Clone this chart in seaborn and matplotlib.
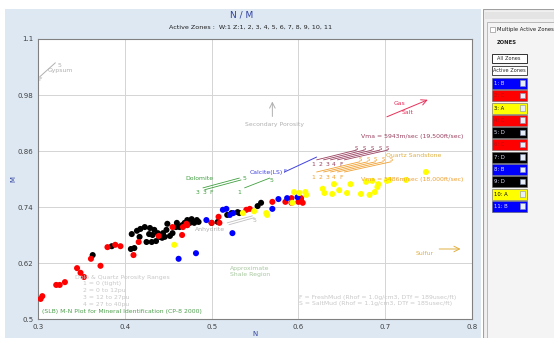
import pandas as pd
import numpy as np
import matplotlib
matplotlib.use("Agg")
import matplotlib.pyplot as plt
import seaborn as sns
from matplotlib.patches import Rectangle

# zone D (black)
n_d = [0.363, 0.385, 0.407, 0.411, 0.408, 0.414, 0.418, 0.423, 0.428, 0.431, 0.436, 0.440,
       0.444, 0.448, 0.449, 0.455, 0.459, 0.466, 0.469, 0.475, 0.480, 0.485, 0.434, 0.443,
       0.438, 0.425, 0.417, 0.460, 0.472, 0.477, 0.483, 0.500, 0.507, 0.518, 0.523, 0.530,
       0.532, 0.553, 0.557, 0.446, 0.463, 0.452, 0.429, 0.432]
m_d = [0.637, 0.656, 0.650, 0.652, 0.682, 0.689, 0.693, 0.697, 0.682, 0.665, 0.667, 0.676,
       0.684, 0.691, 0.704, 0.684, 0.697, 0.701, 0.706, 0.706, 0.706, 0.708, 0.691, 0.674,
       0.684, 0.665, 0.676, 0.706, 0.712, 0.714, 0.712, 0.706, 0.708, 0.723, 0.727, 0.729,
       0.727, 0.742, 0.749, 0.676, 0.697, 0.678, 0.695, 0.680]

# zone C (red)
n_c = [0.303, 0.305, 0.321, 0.325, 0.331, 0.345, 0.349, 0.353, 0.361, 0.372, 0.380, 0.389,
       0.395, 0.410, 0.416, 0.439, 0.455, 0.466, 0.467, 0.471, 0.472, 0.500, 0.508, 0.509,
       0.540, 0.544, 0.570, 0.585, 0.600, 0.603, 0.605, 0.592, 0.592, 0.603]
m_c = [0.543, 0.549, 0.573, 0.573, 0.579, 0.609, 0.599, 0.590, 0.629, 0.614, 0.654, 0.659,
       0.656, 0.637, 0.665, 0.678, 0.697, 0.680, 0.697, 0.704, 0.701, 0.706, 0.719, 0.706,
       0.734, 0.736, 0.751, 0.751, 0.751, 0.759, 0.749, 0.749, 0.759, 0.755]

# zone B (blue)
n_b = [0.462, 0.482, 0.524, 0.494, 0.513, 0.517, 0.521, 0.525, 0.570, 0.577, 0.587, 0.599]
m_b = [0.629, 0.641, 0.684, 0.712, 0.734, 0.736, 0.723, 0.727, 0.736, 0.757, 0.759, 0.761]

# zone A (yellow)
n_a = [0.457, 0.536, 0.549, 0.563, 0.564, 0.595, 0.601, 0.608, 0.609, 0.593, 0.628, 0.630,
       0.641, 0.647, 0.639, 0.656, 0.660, 0.672, 0.682, 0.678, 0.688, 0.691, 0.692, 0.702,
       0.747, 0.685, 0.705, 0.724]
m_a = [0.659, 0.727, 0.731, 0.727, 0.723, 0.772, 0.770, 0.772, 0.766, 0.749, 0.779, 0.770,
       0.789, 0.776, 0.768, 0.770, 0.789, 0.768, 0.766, 0.794, 0.772, 0.783, 0.789, 0.796,
       0.815, 0.796, 0.798, 0.798]

zone_labels = ["1: B", "2: C", "3: A", "4: C", "5: D", "6: C", "7: D", "8: B", "9: D", "10: A", "11: B"]
litho_colors = {"A": "#ffff00", "B": "#0000ff", "C": "#ff0000", "D": "#000000"}

x_ticks = [0.3, 0.4, 0.5, 0.6, 0.7, 0.8]
y_ticks = [0.5, 0.62, 0.74, 0.86, 0.98, 1.1]

# Vma fan lines (start N, end N), maroon = 19,500 ft/s, orange = 18,000 ft/s
fan_start = [0.621, 0.629, 0.637, 0.645, 0.653]
fan_end = [0.667, 0.676, 0.685, 0.694, 0.703]
fan_labels = ["1", "2", "3", "4", "F"]


def build_frame():
    parts = []
    for key, ns, ms in [("D", n_d, m_d), ("C", n_c, m_c), ("B", n_b, m_b), ("A", n_a, m_a)]:
        parts.append(pd.DataFrame({"N": ns, "M": ms, "litho": key}))
    return pd.concat(parts, ignore_index=True)


def draw_annotations(ax):
    gray = "#b0b0b0"
    fs = 4.4
    # gypsum
    ax.plot([0.302, 0.320], [1.019, 1.049], color=gray, lw=0.7)
    ax.text(0.322, 1.041, "5", color=gray, fontsize=fs)
    ax.text(0.311, 1.030, "Gypsum", color=gray, fontsize=fs)
    ax.text(0.300, 1.010, "F", color=gray, fontsize=fs)
    # secondary porosity
    ax.annotate("", xy=(0.570, 0.972), xytext=(0.570, 0.928),
                arrowprops=dict(arrowstyle="->", color=gray, lw=0.7))
    ax.text(0.572, 0.917, "Secondary Porosity", color=gray, fontsize=fs, ha="center", va="center")
    # gas / salt
    red = "#e8305a"
    ax.annotate("", xy=(0.752, 0.972), xytext=(0.699, 0.931),
                arrowprops=dict(arrowstyle="->", color=red, lw=0.7))
    ax.text(0.716, 0.961, "Gas", color=red, fontsize=fs, ha="center", va="center")
    ax.text(0.726, 0.942, "Salt", color=red, fontsize=fs, ha="center", va="center")
    # Vma texts
    maroon = "#9a4060"
    orange = "#f0a030"
    ax.text(0.672, 0.892, "Vma = 5943m/sec (19,500ft/sec)", color=maroon, fontsize=fs, va="center")
    ax.text(0.701, 0.851, "Quartz Sandstone", color="#e0b040", fontsize=fs, va="center")
    ax.text(0.672, 0.800, "Vma = 5486m/sec (18,000ft/sec)", color=orange, fontsize=fs, va="center")
    for s, e, lab in zip(fan_start, fan_end, fan_labels):
        ax.plot([s, e], [0.841, 0.862], color=maroon, lw=0.6)
        ax.text(s - 0.004, 0.832, lab, color=maroon, fontsize=fs, ha="center", va="center")
        ax.text(e, 0.866, "S", color=maroon, fontsize=3.8, ha="center", va="center")
        ax.plot([s, e + 0.004], [0.815, 0.837], color=orange, lw=0.6)
        ax.text(s - 0.004, 0.804, lab, color=orange, fontsize=fs, ha="center", va="center")
        ax.text(e + 0.004, 0.841, "S", color=orange, fontsize=3.8, ha="center", va="center")
    # calcite
    blue = "#4040e0"
    ax.plot([0.584, 0.621], [0.815, 0.847], color=blue, lw=0.7)
    ax.text(0.585, 0.816, "F", color=blue, fontsize=3.8, ha="center", va="center")
    ax.text(0.563, 0.813, "Calcite(LS)", color=blue, fontsize=fs, ha="center", va="center")
    # dolomite
    green = "#40a040"
    ax.plot([0.490, 0.532], [0.781, 0.802], color=green, lw=0.6)
    ax.plot([0.492, 0.534], [0.777, 0.798], color=green, lw=0.6)
    ax.plot([0.538, 0.567], [0.781, 0.802], color=green, lw=0.6)
    ax.text(0.486, 0.801, "Dolomite", color=green, fontsize=fs, ha="center", va="center")
    for xx, lab in [(0.484, "3"), (0.492, "3"), (0.500, "F"), (0.532, "1")]:
        ax.text(xx, 0.772, lab, color=green, fontsize=fs, ha="center", va="center")
    ax.text(0.538, 0.800, "5", color=green, fontsize=fs, ha="center", va="center")
    ax.text(0.569, 0.796, "5", color=green, fontsize=fs, ha="center", va="center")
    # anhydrite
    ax.plot([0.518, 0.547], [0.706, 0.721], color="#c0c0c0", lw=0.6)
    ax.plot([0.520, 0.549], [0.702, 0.717], color="#c0c0c0", lw=0.6)
    ax.text(0.549, 0.712, "5", color=gray, fontsize=fs, ha="center", va="center")
    ax.text(0.498, 0.691, "Anhydrite", color=gray, fontsize=fs, ha="center", va="center")
    # sulfur
    gold = "#e0b040"
    ax.annotate("", xy=(0.790, 0.650), xytext=(0.759, 0.650),
                arrowprops=dict(arrowstyle="->", color=gold, lw=0.7))
    ax.text(0.745, 0.640, "Sulfur", color=gold, fontsize=fs, ha="center", va="center")
    # shale region
    sg = "#a8c8a0"
    ax.text(0.521, 0.609, "Approximate", color=sg, fontsize=fs, va="center")
    ax.text(0.521, 0.596, "Shale Region", color=sg, fontsize=fs, va="center")
    # porosity ranges
    lg = "#c8c8c8"
    ax.text(0.343, 0.590, "Dolo & Quartz Porosity Ranges", color=lg, fontsize=fs, va="center")
    for yy, t in zip([0.577, 0.562, 0.547, 0.532],
                     ["1 = 0 (tight)", "2 = 0 to 12pu", "3 = 12 to 27pu", "4 = 27 to 40pu"]):
        ax.text(0.352, yy, t, color=lg, fontsize=fs, va="center")
    ax.text(0.305, 0.515, "(SLB) M-N Plot for Mineral Identification (CP-8 2000)",
            color="#50a050", fontsize=fs, va="center")
    ax.text(0.601, 0.545, "F = FreshMud (Rhof = 1.0g/cm3, DTf = 189usec/ft)",
            color=lg, fontsize=fs, va="center")
    ax.text(0.601, 0.534, "S = SaltMud (Rhof = 1.1g/cm3, DTf = 185usec/ft)",
            color=lg, fontsize=fs, va="center")


def draw_zone_panel(fig):
    pax = fig.add_axes([483 / 554, 0, 71 / 554, 329 / 338])
    pax.set_xlim(483, 554)
    pax.set_ylim(338, 9)
    pax.axis("off")
    pax.add_patch(Rectangle((483, 9), 71, 329, facecolor="#f0f0f0", edgecolor="#a0a0a0", lw=0.8))
    pax.add_patch(Rectangle((485, 12), 69, 7, facecolor="#e4e4e4", edgecolor="none"))
    pax.add_patch(Rectangle((487, 22), 67, 316, facecolor="#f4f4f4", edgecolor="#b0b0b0", lw=0.6))
    pax.add_patch(Rectangle((490, 27), 5, 5, facecolor="white", edgecolor="#808080", lw=0.4))
    pax.text(497, 30, "Multiple Active Zones", fontsize=3.8, va="center", color="#202020")
    pax.text(507, 43, "ZONES", fontsize=3.8, va="center", ha="center", color="#202020", weight="bold")
    pax.add_patch(Rectangle((492, 54), 35, 9, facecolor="white", edgecolor="#303030", lw=0.7))
    pax.text(509, 58.5, "All Zones", fontsize=3.6, va="center", ha="center")
    pax.add_patch(Rectangle((492, 66), 35, 9, facecolor="white", edgecolor="#303030", lw=0.6))
    pax.text(509, 70.5, "Active Zones", fontsize=3.6, va="center", ha="center")
    for i, lab in enumerate(zone_labels):
        y0 = 78 + i * 12.3
        col = litho_colors[lab.split(": ")[1]]
        tcol = {"#ffff00": "#000000", "#ff0000": "#b01010"}.get(col, "#e0e0ff")
        pax.add_patch(Rectangle((492, y0), 35, 11, facecolor=col, edgecolor="#606060", lw=0.4))
        pax.text(494, y0 + 5.5, lab, fontsize=3.8, va="center", color=tcol)
        pax.add_patch(Rectangle((520, y0 + 2.5), 5, 5.5, facecolor="#e8eef8", edgecolor="#8090b0", lw=0.4))


def main():
    sns.set_style("white")
    plt.rcParams["font.family"] = ["DejaVu Sans"]
    df = build_frame()

    fig = plt.figure(figsize=(5.54, 3.38), dpi=100)
    fig.patch.set_facecolor("white")
    fig.add_artist(Rectangle((5 / 554, 0), 476 / 554, 329 / 338, transform=fig.transFigure,
                             facecolor="#dde8f3", edgecolor="none", zorder=-10))

    ax = fig.add_axes([38 / 554, 1 - 319 / 338, (472 - 38) / 554, (319 - 39) / 338])
    ax.set_facecolor("white")
    sns.scatterplot(data=df, x="N", y="M", hue="litho", palette=litho_colors,
                    s=19, linewidth=0, legend=False, ax=ax, zorder=3)
    ax.set_xlim(0.3, 0.8)
    ax.set_ylim(0.5, 1.1)
    ax.set_xticks(x_ticks)
    ax.set_yticks(y_ticks)
    ax.set_xticklabels([f"{v:g}" for v in x_ticks])
    ax.set_yticklabels([f"{v:g}" for v in y_ticks])
    ax.tick_params(labelsize=5, colors="#404040", length=2, pad=1.5)
    ax.grid(True, color="#d4d4d4", lw=0.7)
    for sp in ax.spines.values():
        sp.set_color("#808080")
        sp.set_linewidth(0.8)
    ax.set_xlabel("")
    ax.set_ylabel("")
    fig.text(255 / 554, 1 - 334 / 338, "N", fontsize=5, color="#3040a0", ha="center", va="center")
    fig.text(13 / 554, 1 - 179 / 338, "M", fontsize=5, color="#3040a0", ha="center", va="center",
             rotation=90)
    fig.text(242 / 554, 1 - 15 / 338, "N / M", fontsize=6.5, color="#3040a0", ha="center", va="center")
    fig.text(251 / 554, 1 - 27 / 338, "Active Zones :  W:1 Z:1, 2, 3, 4, 5, 6, 7, 8, 9, 10, 11",
             fontsize=4.6, color="#202020", ha="center", va="center")

    draw_annotations(ax)
    draw_zone_panel(fig)

    fig.savefig("out.png", dpi=100)


if __name__ == "__main__":
    main()
